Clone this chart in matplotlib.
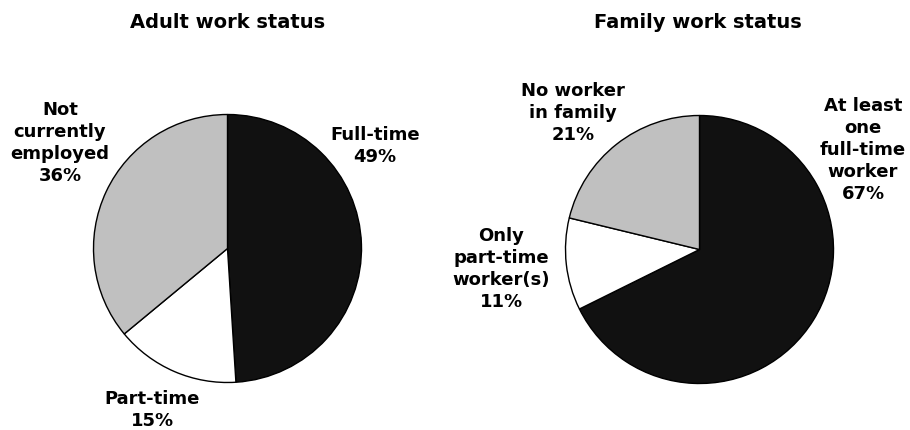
import matplotlib.pyplot as plt

# 数据
adult_labels = ['Full-time\n49%', 'Part-time\n15%', 'Not\ncurrently\nemployed\n36%']
adult_values = [49, 15, 36]
family_labels = ['At least\none\nfull-time\nworker\n67%', 'Only\npart-time\nworker(s)\n11%',
                 'No worker\nin family\n21%']
family_values = [67, 11, 21]
colors = ['#111111', '#ffffff', '#c0c0c0']

W, H = 910, 431

plt.rcParams['font.family'] = ['DejaVu Sans']
fig = plt.figure(figsize=(W / 100, H / 100), dpi=100)
ax = fig.add_axes([0, 0, 1, 1])


def draw_pie(values, cx, cy, r):
    ax.pie(values, colors=colors, startangle=90, counterclock=False,
           center=(cx, H - cy), radius=r, frame=True,
           wedgeprops=dict(edgecolor='black', linewidth=1))


draw_pie(adult_values, 227.5, 249.5, 134)
draw_pie(family_values, 699.5, 250.5, 134)
ax.set_xlim(0, W)
ax.set_ylim(0, H)
ax.set_aspect('equal')
ax.axis('off')

txt = dict(ha='center', va='center', fontsize=13, fontweight='bold', linespacing=1.28)

# 标题
ax.text(228, H - 28, 'Adult work status', ha='center', va='baseline', fontsize=14, fontweight='bold')
ax.text(698, H - 28, 'Family work status', ha='center', va='baseline', fontsize=14, fontweight='bold')

# 左饼图标签
ax.text(375, H - 146, adult_labels[0], **txt)
ax.text(152, H - 410, adult_labels[1], **txt)
ax.text(60, H - 143, adult_labels[2], **txt)

# 右饼图标签
ax.text(863, H - 150, family_labels[0], **txt)
ax.text(501, H - 269, family_labels[1], **txt)
ax.text(573, H - 113, family_labels[2], **txt)

plt.savefig('out.png', dpi=100)
